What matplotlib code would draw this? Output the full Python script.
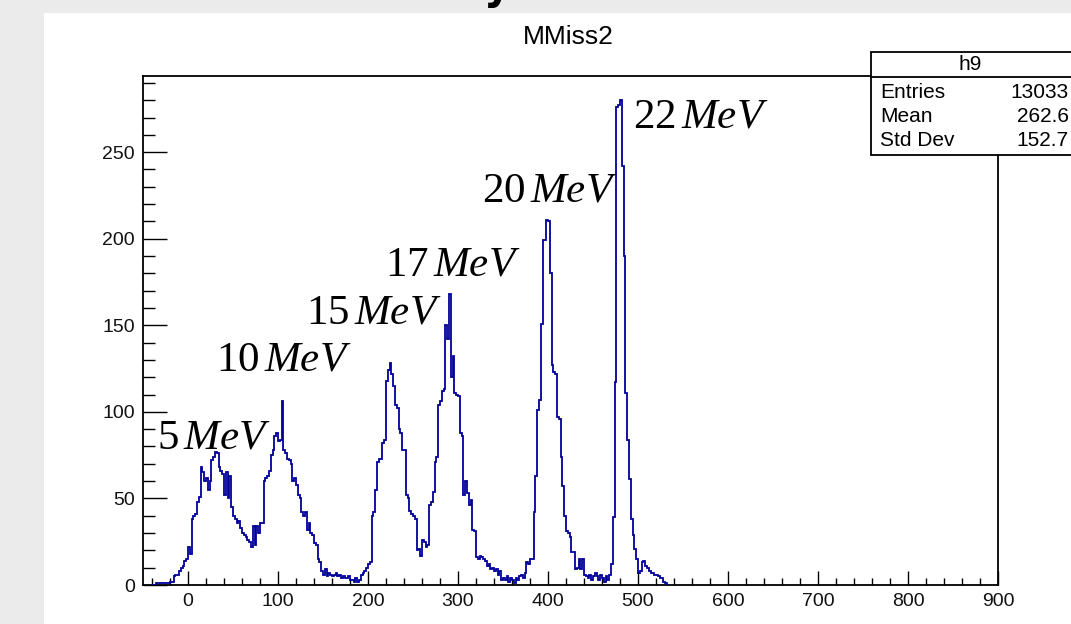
import numpy as np
import matplotlib
matplotlib.use("Agg")
import matplotlib.pyplot as plt
from matplotlib.patches import Rectangle
from matplotlib.lines import Line2D
from matplotlib.ticker import MultipleLocator

# ---------------- data ----------------
bin_start = -40
bin_width = 2
counts = [
    0, 0, 1, 1, 1, 1, 1, 1, 1, 1,
    2, 2, 5, 6, 6, 8, 10, 11, 14, 15,
    22, 18, 38, 40, 41, 48, 51, 68, 65, 60,
    62, 55, 60, 72, 74, 77, 76, 68, 66, 64,
    52, 65, 50, 63, 45, 40, 38, 36, 37, 33,
    30, 29, 28, 26, 25, 22, 34, 23, 34, 30,
    36, 36, 60, 62, 63, 66, 75, 78, 86, 88,
    83, 84, 106, 78, 76, 73, 72, 70, 60, 62,
    58, 52, 50, 42, 40, 42, 32, 36, 30, 29,
    24, 23, 15, 13, 8, 6, 9, 5, 7, 6,
    5, 6, 7, 5, 6, 4, 5, 4, 4, 5,
    3, 3, 2, 4, 2, 3, 6, 7, 8, 10,
    12, 13, 40, 42, 55, 71, 73, 73, 82, 84,
    118, 124, 128, 122, 115, 104, 102, 90, 88, 78,
    78, 52, 50, 43, 41, 40, 38, 20, 21, 17,
    26, 25, 22, 23, 46, 48, 54, 71, 74, 104,
    106, 112, 113, 150, 142, 168, 120, 132, 111, 110,
    109, 88, 86, 52, 60, 53, 46, 49, 32, 31,
    16, 15, 17, 16, 15, 14, 11, 12, 9, 10,
    8, 9, 6, 8, 3, 4, 3, 5, 2, 4,
    3, 1, 4, 3, 5, 6, 4, 7, 13, 12,
    15, 15, 42, 63, 101, 107, 151, 199, 199, 211,
    210, 180, 127, 123, 122, 97, 96, 74, 57, 40,
    31, 30, 28, 19, 19, 9, 10, 15, 9, 15,
    6, 5, 4, 6, 3, 5, 7, 5, 3, 6,
    4, 2, 5, 3, 6, 12, 39, 117, 276, 277,
    280, 242, 190, 111, 84, 61, 38, 29, 21, 15,
    7, 8, 13, 14, 11, 10, 8, 7, 7, 6,
    6, 5, 4, 4, 2, 1, 0,
]
peak_labels = ["5", "10", "15", "17", "20", "22"]
label_unit = "MeV"
title = "MMiss2"
hist_name = "h9"
stat_names = ["Entries", "Mean", "Std Dev"]
stat_values = ["13033", "262.6", "152.7"]
x_range = (-50, 900)

# label anchor positions (left, baseline) in data coordinates -- layout only
label_pos = [(-34.5, 79), (31, 124), (131, 151), (219, 179), (327, 221.5), (494, 264)]

# ---------------- style ----------------
W, H = 1071, 624
plt.rcParams["font.family"] = ["Liberation Sans", "DejaVu Sans"]
plt.rcParams["mathtext.fontset"] = "custom"
plt.rcParams["mathtext.rm"] = "Liberation Serif"
plt.rcParams["mathtext.it"] = "Liberation Serif:italic"

fig = plt.figure(figsize=(W / 100, H / 100), dpi=100)
fig.patch.set_facecolor("#ebebeb")


def fx(px):
    return px / W


def fy(py):
    return 1 - py / H


# white canvas panel (behind the axes)
fig.patches.append(Rectangle((fx(44), 0), 1, fy(13), transform=fig.transFigure,
                             facecolor="white", edgecolor="none", zorder=-10))
# cut-off heading glyph at very top
fig.text(fx(497), fy(-1), "y", fontsize=30, fontweight="bold", ha="center",
         va="baseline", color="black", family="DejaVu Sans", zorder=-5)

left, right, top, bottom = 143, 998, 76, 585
ax = fig.add_axes([fx(left), fy(bottom), fx(right) - fx(left), fy(top) - fy(bottom)])
ax.set_zorder(1)
ax.set_facecolor("white")

counts_arr = np.array(counts, dtype=float)
edges = bin_start + bin_width * np.arange(len(counts_arr) + 1)
ax.stairs(counts_arr, edges, baseline=0, color="#000099", linewidth=1.3, zorder=3)

ax.set_xlim(*x_range)
ax.set_ylim(0, 1.05 * counts_arr.max())

ax.xaxis.set_major_locator(MultipleLocator(100))
ax.xaxis.set_minor_locator(MultipleLocator(20))
ax.yaxis.set_major_locator(MultipleLocator(50))
ax.yaxis.set_minor_locator(MultipleLocator(10))
ax.tick_params(axis="y", which="major", direction="in", length=17, width=1.0,
               labelsize=14, pad=6)
ax.tick_params(axis="y", which="minor", direction="in", length=8.5, width=1.0)
ax.tick_params(axis="x", which="major", direction="in", length=10, width=1.0,
               labelsize=14, pad=6)
ax.tick_params(axis="x", which="minor", direction="in", length=5, width=1.0)
for lab in ax.get_xticklabels() + ax.get_yticklabels():
    lab.set_color("#111111")
for s in ax.spines.values():
    s.set_linewidth(1.3)

# peak labels
for lab, (x, y) in zip(peak_labels, label_pos):
    ax.text(x, y, r"$\mathrm{%s}\,%s$" % (lab, label_unit), fontsize=31,
            ha="left", va="baseline", color="black", zorder=4)

# title
fig.text(fx(568), fy(44), title, fontsize=19, ha="center", va="baseline", color="black")

# stats box
bx0, bx1, by0, by1, bsep = 871, 1100, 52, 155, 76.5
fig.patches.append(Rectangle((fx(bx0), fy(by1)), fx(bx1) - fx(bx0), fy(by0) - fy(by1),
                             transform=fig.transFigure, facecolor="white",
                             edgecolor="black", linewidth=1.3, zorder=5))
fig.lines.append(Line2D([fx(bx0), fx(bx1)], [fy(bsep), fy(bsep)], transform=fig.transFigure,
                        color="black", linewidth=1.3, zorder=6))
fig.text(fx(970), fy(64), hist_name, fontsize=15, ha="center", va="center", zorder=7)
row_y = [93, 116.5, 140.5]
for name, val, ry in zip(stat_names, stat_values, row_y):
    fig.text(fx(880), fy(ry), name, fontsize=15, ha="left", va="center", zorder=7)
    fig.text(fx(1069), fy(ry), val, fontsize=15, ha="right", va="center", zorder=7)

fig.savefig("out.png", dpi=100, facecolor=fig.get_facecolor())
